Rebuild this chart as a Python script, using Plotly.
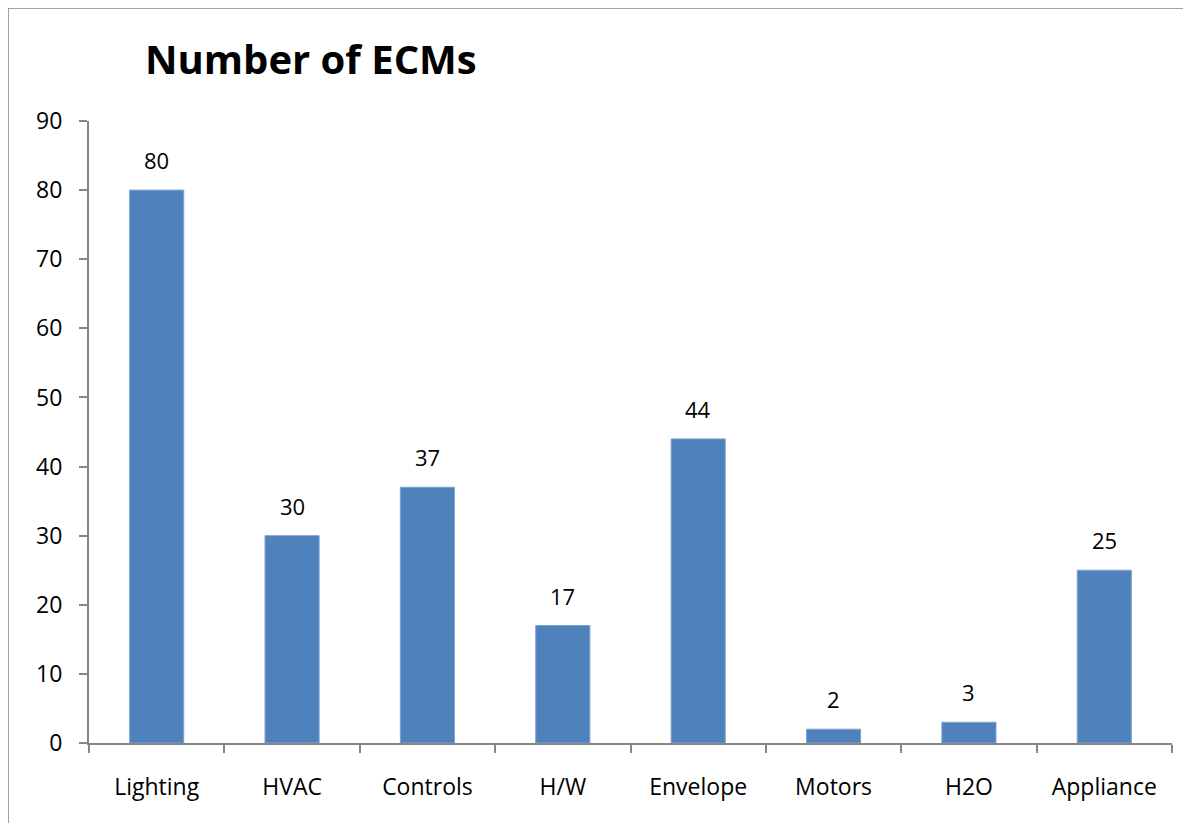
import plotly.graph_objects as go

categories = ["Lighting", "HVAC", "Controls", "H/W", "Envelope", "Motors", "H2O", "Appliance"]
values = [80, 30, 37, 17, 44, 2, 3, 25]
y_ticks = [0, 10, 20, 30, 40, 50, 60, 70, 80, 90]

FONT = "Open Sans, Liberation Sans, sans-serif"
W, H = 1183, 815

fig = go.Figure(go.Bar(
    x=categories, y=values, width=0.4,
    marker=dict(color="#4F81BD", line=dict(color="#7FA3D0", width=1)),
    hoverinfo="x+y",
))

for c, v in zip(categories, values):
    fig.add_annotation(x=c, y=v, text=str(v), showarrow=False,
                       yanchor="bottom", yshift=13,
                       font=dict(size=22, color="#000000", family=FONT))

fig.update_layout(
    width=W, height=H,
    margin=dict(l=81, r=19, t=113, b=80),
    paper_bgcolor="white", plot_bgcolor="white",
    showlegend=False,
    title=dict(text="<b>Number of ECMs</b>", x=137/W, xanchor="left", xref="container",
               y=1-52/H, yanchor="middle", yref="container",
               font=dict(size=40, color="#000000", family=FONT)),
    xaxis=dict(
        showline=True, linecolor="#868686", linewidth=2,
        ticks="outside", tickson="boundaries", ticklen=8, tickcolor="#868686", tickwidth=2,
        tickfont=dict(size=23, color="#000000", family=FONT),
        ticklabelstandoff=22,
        showgrid=False, zeroline=False,
    ),
    yaxis=dict(
        range=[0, 90], tickvals=y_ticks,
        showline=True, linecolor="#868686", linewidth=2,
        ticks="outside", ticklen=8, tickcolor="#868686", tickwidth=2,
        tickfont=dict(size=23, color="#000000", family=FONT),
        ticklabelstandoff=12,
        showgrid=False, zeroline=False,
    ),
)

fig.add_shape(type="rect", xref="paper", yref="paper",
              x0=-81/(W-100), x1=1.2, y0=-0.3, y1=1 + 113/(H-193),
              line=dict(color="#868686", width=1.5), fillcolor="rgba(0,0,0,0)", layer="above")

fig.write_html("out.html")
